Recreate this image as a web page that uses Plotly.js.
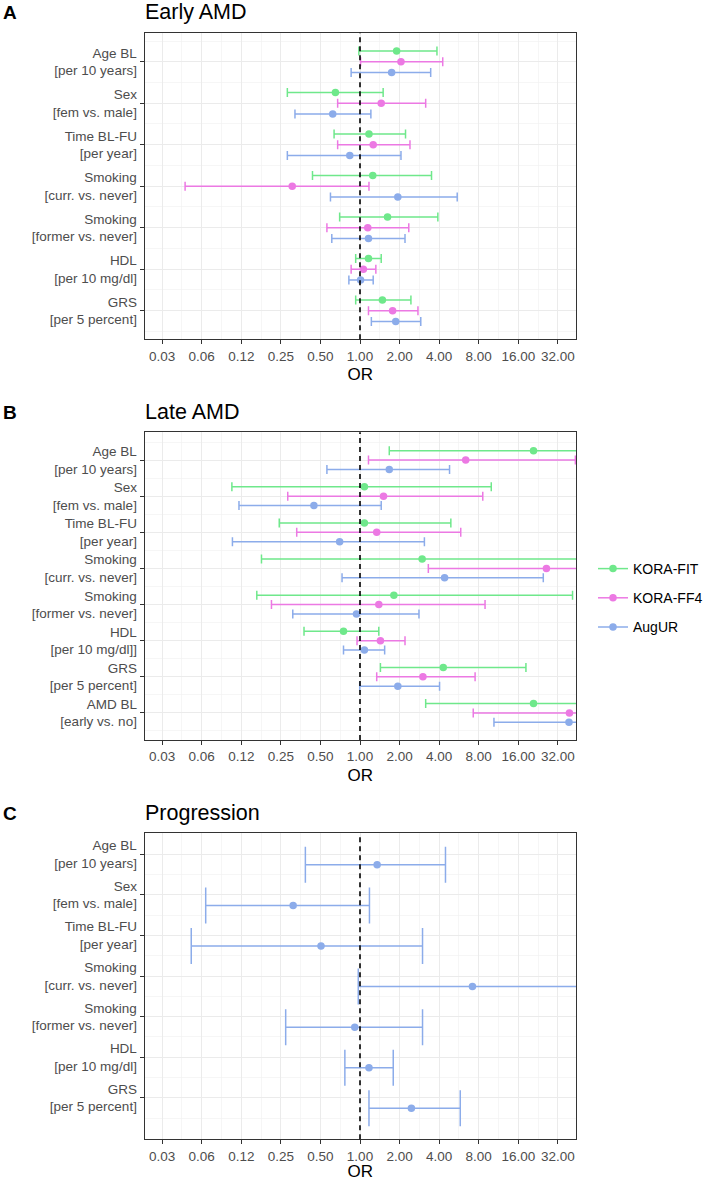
<!DOCTYPE html>
<html><head><meta charset="utf-8">
<script src="https://cdn.plot.ly/plotly-3.0.1.min.js"></script>
<style>html,body{margin:0;padding:0;background:#fff}</style>
</head><body><div id="chart" style="width:704px;height:1181px"></div>
<script>
// ---------- data ----------
const seriesNames = ["KORA-FIT", "KORA-FF4", "AugUR"];
const seriesColors = ["#6FE88B", "#EC79E3", "#8CACEA"];

const tickVals = [0.03125, 0.0625, 0.125, 0.25, 0.5, 1, 2, 4, 8, 16, 32];
const tickText = ["0.03", "0.06", "0.12", "0.25", "0.50", "1.00", "2.00", "4.00", "8.00", "16.00", "32.00"];

const earlyCats = ["Age BL<br>[per 10 years]", "Sex<br>[fem vs. male]", "Time BL-FU<br>[per year]",
  "Smoking<br>[curr. vs. never]", "Smoking<br>[former vs. never]", "HDL<br>[per 10 mg/dl]", "GRS<br>[per 5 percent]"];
const earlyFitOR = [1.90, 0.65, 1.17, 1.25, 1.62, 1.16, 1.48];
const earlyFitLo = [0.98, 0.28, 0.635, 0.435, 0.70, 0.927, 0.927];
const earlyFitHi = [3.85, 1.50, 2.22, 3.50, 3.91, 1.45, 2.44];
const earlyFf4OR = [2.05, 1.45, 1.26, 0.305, 1.146, 1.06, 1.77];
const earlyFf4Lo = [1.01, 0.676, 0.676, 0.0467, 0.56, 0.856, 1.16];
const earlyFf4Hi = [4.26, 3.16, 2.40, 1.17, 2.35, 1.32, 2.76];
const earlyAugOR = [1.74, 0.62, 0.836, 1.94, 1.16, 1.01, 1.87];
const earlyAugLo = [0.856, 0.32, 0.28, 0.596, 0.61, 0.823, 1.22];
const earlyAugHi = [3.45, 1.21, 2.05, 5.49, 2.20, 1.26, 2.90];

const lateCats = ["Age BL<br>[per 10 years]", "Sex<br>[fem vs. male]", "Time BL-FU<br>[per year]",
  "Smoking<br>[curr. vs. never]", "Smoking<br>[former vs. never]", "HDL<br>[per 10 mg/dl]]",
  "GRS<br>[per 5 percent]", "AMD BL<br>[early vs. no]"];
const lateFitOR = [20.9, 1.08, 1.08, 2.97, 1.81, 0.749, 4.30, 20.9];
const lateFitLo = [1.67, 0.106, 0.243, 0.178, 0.164, 0.375, 1.43, 3.16];
const lateFitHi = [261, 9.97, 4.91, 49.6, 41.4, 1.39, 18.3, 138];
const lateFf4OR = [6.37, 1.51, 1.34, 26.2, 1.39, 1.43, 3.01, 39.2];
const lateFf4Lo = [1.16, 0.282, 0.33, 3.31, 0.212, 0.949, 1.34, 7.27];
const lateFf4Hi = [43.5, 8.59, 5.84, 207, 8.94, 2.20, 7.51, 211];
const lateAugOR = [1.67, 0.446, 0.70, 4.40, 0.94, 1.08, 1.94, 38.9];
const lateAugLo = [0.56, 0.12, 0.107, 0.73, 0.308, 0.749, 0.995, 10.45];
const lateAugHi = [4.80, 1.45, 3.09, 24.8, 2.81, 1.54, 4.03, 145];

const progCats = ["Age BL<br>[per 10 years]", "Sex<br>[fem vs. male]", "Time BL-FU<br>[per year]",
  "Smoking<br>[curr. vs. never]", "Smoking<br>[former vs. never]", "HDL<br>[per 10 mg/dl]", "GRS<br>[per 5 percent]"];
const progAugOR = [1.35, 0.31, 0.505, 7.17, 0.912, 1.17, 2.46];
const progAugLo = [0.384, 0.067, 0.052, 0.97, 0.272, 0.767, 1.17];
const progAugHi = [4.47, 1.18, 2.99, 53, 2.99, 1.79, 5.79];

const panelLetters = ["A", "B", "C"];
const panelTitles = ["Early AMD", "Late AMD", "Progression"];

// ---------- layout geometry (pixels) ----------
const W = 704, H = 1181;
const FONT = "Liberation Sans, Arial, Helvetica, sans-serif";
const plotLeft = 144.6, plotRight = 576;
const panels = [
  { top: 32.7, bottom: 339.3, cats: earlyCats, rng: [6.69, -0.70], cap: 4.5,
    series: [[earlyFitOR, earlyFitLo, earlyFitHi, 0], [earlyFf4OR, earlyFf4Lo, earlyFf4Hi, 1], [earlyAugOR, earlyAugLo, earlyAugHi, 2]] },
  { top: 432.3, bottom: 740, cats: lateCats, rng: [7.75, -0.77], cap: 4.5,
    series: [[lateFitOR, lateFitLo, lateFitHi, 0], [lateFf4OR, lateFf4Lo, lateFf4Hi, 1], [lateAugOR, lateAugLo, lateAugHi, 2]] },
  { top: 833.3, bottom: 1139.3, cats: progCats, rng: [7.025, -0.518], cap: 18,
    series: [[progAugOR, progAugLo, progAugHi, 2]] }
];
const dodge = [-0.26, 0, 0.26];

const log2 = Math.log10(2);
const xRange = [-5.444 * log2, 5.459 * log2];
const minorX = [];
for (let k = -5; k <= 4; k++) minorX.push(Math.pow(2, k + 0.5));

const traces = [];
const layout = {
  width: W, height: H, margin: { l: 0, r: 0, t: 0, b: 0, autoexpand: false },
  paper_bgcolor: "#fff", plot_bgcolor: "#fff",
  font: { family: FONT, color: "#000" },
  showlegend: true,
  legend: { x: 593 / W, xanchor: "left", y: 1 - 598 / H, yanchor: "middle",
    font: { size: 14, color: "#000", family: FONT }, bgcolor: "rgba(0,0,0,0)",
    tracegroupgap: 8, itemwidth: 30 },
  annotations: [], shapes: []
};

panels.forEach((p, i) => {
  const n = i + 1;
  const xa = "x" + (n === 1 ? "" : n), ya = "y" + (n === 1 ? "" : n);
  const idx = p.cats.map((_, j) => j);
  p.series.forEach(([or, lo, hi, s]) => {
    traces.push({
      type: "scatter", mode: "markers", xaxis: xa, yaxis: ya, showlegend: false,
      x: or, y: idx.map(j => j + dodge[s]), name: seriesNames[s],
      marker: { color: seriesColors[s], size: 7.5 },
      error_x: { type: "data", symmetric: false,
        array: or.map((v, j) => hi[j] - v), arrayminus: or.map((v, j) => v - lo[j]),
        color: seriesColors[s], thickness: 1.5, width: p.cap }
    });
  });
  const yd = [1 - p.bottom / H, 1 - p.top / H];
  layout["xaxis" + (n === 1 ? "" : n)] = {
    domain: [plotLeft / W, plotRight / W], anchor: ya, type: "log", range: xRange,
    tickmode: "array", tickvals: tickVals, ticktext: tickText,
    ticks: "outside", ticklen: 4, tickwidth: 1, tickcolor: "#333",
    showline: true, mirror: true, linecolor: "#333", linewidth: 1,
    showgrid: true, gridcolor: "#EBEBEB", gridwidth: 1, zeroline: false,
    minor: { tickmode: "array", tickvals: minorX, showgrid: true, gridcolor: "#F2F2F2", gridwidth: 0.7, ticks: "" },
    tickfont: { size: 13.5, color: "#4D4D4D", family: FONT },
    title: { text: "OR", font: { size: 17, color: "#000", family: FONT }, standoff: 5 },
    automargin: false, fixedrange: true
  };
  layout["yaxis" + (n === 1 ? "" : n)] = {
    domain: yd, anchor: xa, range: p.rng,
    tickmode: "array", tickvals: idx, ticktext: p.cats,
    ticks: "outside", ticklen: 4, tickwidth: 1, tickcolor: "#333",
    showline: true, mirror: true, linecolor: "#333", linewidth: 1,
    showgrid: true, gridcolor: "#EBEBEB", gridwidth: 1, zeroline: false,
    minor: { tickmode: "array", tickvals: idx.map(j => j - 0.5).concat([p.cats.length - 0.5]),
      showgrid: true, gridcolor: "#F2F2F2", gridwidth: 0.7, ticks: "" },
    tickfont: { size: 13.5, color: "#4D4D4D", family: FONT },
    automargin: false, fixedrange: true
  };
  layout.shapes.push({ type: "line", layer: "above", xref: xa, yref: "paper",
    x0: 1, x1: 1, y0: yd[0], y1: yd[1], line: { color: "#000", width: 1.6, dash: "5px,4px" } });
  const ty = 1 - (p.top - 20.3) / H;
  layout.annotations.push({ xref: "paper", yref: "paper", x: 1 / W, y: ty, xanchor: "left", yanchor: "middle",
    text: "<b>" + panelLetters[i] + "</b>", showarrow: false, font: { size: 19, color: "#000", family: FONT } });
  layout.annotations.push({ xref: "paper", yref: "paper", x: 143 / W, y: ty, xanchor: "left", yanchor: "middle",
    text: panelTitles[i], showarrow: false, font: { size: 21.5, color: "#000", family: FONT } });
});

// legend entries (line + point key, as in the reference)
seriesNames.forEach((nm, s) => {
  traces.push({ type: "scatter", mode: "lines+markers", x: [null], y: [null], xaxis: "x2", yaxis: "y2",
    name: nm, legendgroup: nm, showlegend: true,
    line: { color: seriesColors[s], width: 1.5 }, marker: { color: seriesColors[s], size: 7.5 } });
});

Plotly.newPlot("chart", traces, layout, { staticPlot: true, displayModeBar: false });
</script>
</body></html>
